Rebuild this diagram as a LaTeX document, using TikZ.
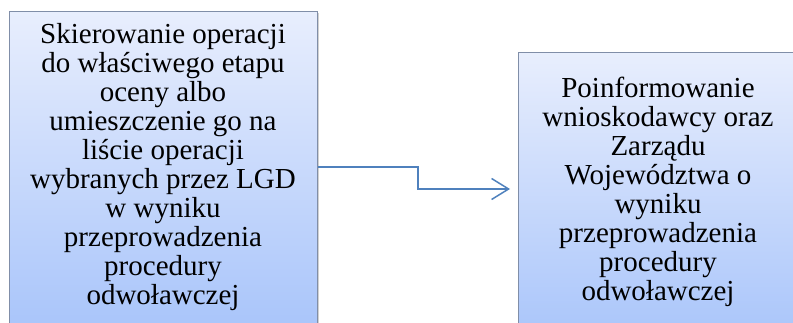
\documentclass[tikz,border=0pt]{standalone}
\usepackage{fontspec}
\setmainfont{Liberation Serif}
\usetikzlibrary{arrows.meta,shadows}
\definecolor{boxtop}{RGB}{232,238,253}
\definecolor{boxbot}{RGB}{166,195,250}
\definecolor{boxline}{RGB}{128,142,168}
\definecolor{conncol}{RGB}{79,129,189}
\tikzset{
  stepbox/.style={draw=boxline, line width=1.2pt, top color=boxtop, bottom color=boxbot,
    inner sep=0pt, anchor=north west,
    drop shadow={shadow xshift=1.5pt, shadow yshift=-1.5pt, fill=black!30, opacity=.6}},
  boxtext/.style={align=center, inner sep=0pt, font=\fontsize{29pt}{29pt}\selectfont},
  conn/.style={draw=conncol, line width=1.5pt, -{Straight Barb[length=17pt,width=21pt,line width=1.5pt]}}
}
\begin{document}
\begin{tikzpicture}[x=1pt,y=1pt]
\useasboundingbox (0,0) rectangle (793,322);
\clip (0,0) rectangle (793,322);
\node[stepbox, minimum width=308pt, minimum height=330pt] (b1) at (9,311) {};
\node[stepbox, minimum width=290pt, minimum height=300pt] (b2) at (518,270) {};
\node[boxtext] (t1) at (163,155) {Skierowanie operacji\\do właściwego etapu\\oceny albo\\umieszczenie go na\\liście operacji\\wybranych przez LGD\\w wyniku\\przeprowadzenia\\procedury\\odwoławczej};
\node[boxtext] (t2) at (658,130.5) {Poinformowanie\\wnioskodawcy oraz\\Zarządu\\Województwa o\\wyniku\\przeprowadzenia\\procedury\\odwoławczej};
\coordinate (bend) at (418,144);
\coordinate (tip) at (510,133);
\draw[conn] (b1.east |- 0,155) -| (bend) |- (tip);
\end{tikzpicture}
\end{document}
